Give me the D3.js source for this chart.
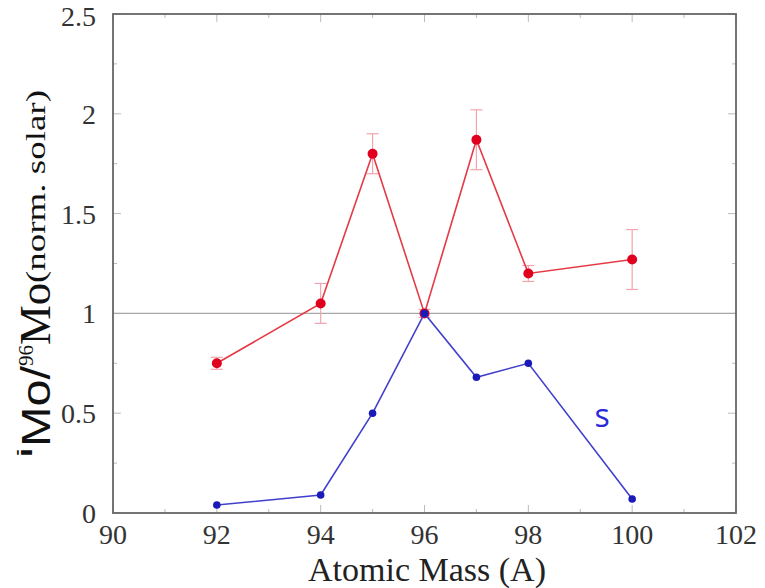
<!DOCTYPE html>
<html>
<head>
<meta charset="utf-8">
<script src="https://cdn.jsdelivr.net/npm/d3@7"></script>
<style>
  body { margin: 0; background: #fff; }
  svg { display: block; }
</style>
</head>
<body>
<div id="chart"></div>
<script>
// Mo isotope ratios, normalised to solar
const masses   = [92, 94, 95, 96, 97, 98, 100];
const measured = [0.75, 1.05, 1.80, 1.00, 1.87, 1.20, 1.27];
const errLow   = [0.72, 0.95, 1.70, 0.98, 1.72, 1.16, 1.12];
const errHigh  = [0.78, 1.15, 1.90, 1.02, 2.02, 1.24, 1.42];
const sProcess = [0.04, 0.09, 0.50, 1.00, 0.68, 0.75, 0.07];

const xTicks = [90, 92, 94, 96, 98, 100, 102];
const yTicks = [0, 0.5, 1, 1.5, 2, 2.5];

const SERIF = '"Liberation Serif"';
const SANS = '"Liberation Sans"';

const W = 765, H = 588;
const mLeft = 113, mRight = 736, mTop = 14, mBottom = 513;

const svg = d3.select("#chart").append("svg")
    .attr("width", W).attr("height", H);

const x = d3.scaleLinear().domain([90, 102]).range([mLeft, mRight]);
const y = d3.scaleLinear().domain([0, 2.5]).range([mBottom, mTop]);

// ticks on all four sides, pointing inward
const ticks = svg.append("g").attr("stroke", "#bbb").attr("stroke-width", 1);
d3.range(90, 102.01, 1).forEach(v => {
    const len = v % 2 === 0 ? 8 : 4;
    ticks.append("line").attr("x1", x(v)).attr("x2", x(v)).attr("y1", mBottom).attr("y2", mBottom - len);
    ticks.append("line").attr("x1", x(v)).attr("x2", x(v)).attr("y1", mTop).attr("y2", mTop + len);
});
d3.range(0, 2.51, 0.25).forEach(v => {
    const len = Math.abs(v * 2 - Math.round(v * 2)) < 1e-6 ? 8 : 4;
    ticks.append("line").attr("y1", y(v)).attr("y2", y(v)).attr("x1", mLeft).attr("x2", mLeft + len);
    ticks.append("line").attr("y1", y(v)).attr("y2", y(v)).attr("x1", mRight).attr("x2", mRight - len);
});

// reference line at 1
svg.append("line")
    .attr("x1", mLeft).attr("x2", mRight)
    .attr("y1", y(1)).attr("y2", y(1))
    .attr("stroke", "#a8a8a8").attr("stroke-width", 1.3);

// frame
svg.append("rect")
    .attr("x", mLeft).attr("y", mTop)
    .attr("width", mRight - mLeft).attr("height", mBottom - mTop)
    .attr("fill", "none").attr("stroke", "#666").attr("stroke-width", 1.8);

// tick labels
svg.append("g").selectAll("text").data(xTicks).join("text")
    .style("font-family", SERIF)
    .attr("x", d => x(d)).attr("y", 544)
    .attr("text-anchor", "middle")
    .attr("font-size", 28).attr("fill", "#333")
    .text(d => d);

svg.append("g").selectAll("text").data(yTicks).join("text")
    .style("font-family", SERIF)
    .attr("x", 96).attr("y", d => Math.max(y(d) + 10, 26))
    .attr("text-anchor", "end")
    .attr("font-size", 28).attr("fill", "#333")
    .text(d => d);

// x title
svg.append("text")
    .style("font-family", SERIF)
    .attr("x", 427).attr("y", 581)
    .attr("text-anchor", "middle")
    .attr("font-size", 34).attr("fill", "#222")
    .text("Atomic Mass (A)");

// y title, built from pieces; [text, family, size, screenY start, screenY end, baseline x]
const yTitleParts = [
    ["i", SANS, 20, 458, 447, 32],
    ["Mo/", SANS, 41, 447, 366, 50],
    ["96", SERIF, 22, 366, 345, 33],
    ["Mo", SERIF, 44, 345, 283, 50],
    ["(norm. solar)", SERIF, 28, 283, 90, 45]
];
const yt = svg.append("g").attr("transform", "rotate(-90)");
yTitleParts.forEach(([t, fam, fs, s0, s1, bx]) => {
    yt.append("text")
        .style("font-family", fam)
        .attr("font-size", fs)
        .attr("x", -s0).attr("y", bx)
        .attr("textLength", s0 - s1)
        .attr("lengthAdjust", "spacingAndGlyphs")
        .attr("fill", "#111")
        .text(t);
});

const pts = masses.map((m, i) => ({ m, v: measured[i], lo: errLow[i], hi: errHigh[i], s: sProcess[i] }));

// error bars
const eb = svg.append("g").attr("stroke", "#f2a5ae").attr("stroke-width", 1.2);
pts.forEach(d => {
    eb.append("line").attr("x1", x(d.m)).attr("x2", x(d.m)).attr("y1", y(d.lo)).attr("y2", y(d.hi));
    eb.append("line").attr("x1", x(d.m) - 6).attr("x2", x(d.m) + 6).attr("y1", y(d.lo)).attr("y2", y(d.lo));
    eb.append("line").attr("x1", x(d.m) - 6).attr("x2", x(d.m) + 6).attr("y1", y(d.hi)).attr("y2", y(d.hi));
});

const line = key => d3.line().x(d => x(d.m)).y(d => y(d[key]));

// measured (red)
svg.append("path").datum(pts)
    .attr("d", line("v"))
    .attr("fill", "none").attr("stroke", "#e53a46").attr("stroke-width", 1.6);
svg.append("g").selectAll("circle").data(pts).join("circle")
    .attr("cx", d => x(d.m)).attr("cy", d => y(d.v)).attr("r", 5)
    .attr("fill", "#e0001e");

// s-process (blue)
svg.append("path").datum(pts)
    .attr("d", line("s"))
    .attr("fill", "none").attr("stroke", "#4040cc").attr("stroke-width", 1.6);
svg.append("g").selectAll("circle").data(pts).join("circle")
    .attr("cx", d => x(d.m)).attr("cy", d => y(d.s)).attr("r", 3.8)
    .attr("fill", "#1a1ab8");

svg.append("text")
    .style("font-family", '"Open Sans"')
    .attr("x", 602).attr("y", 427)
    .attr("text-anchor", "middle")
    .attr("font-size", 32).attr("fill", "#2a2ad6")
    .text("s");
</script>
</body>
</html>
